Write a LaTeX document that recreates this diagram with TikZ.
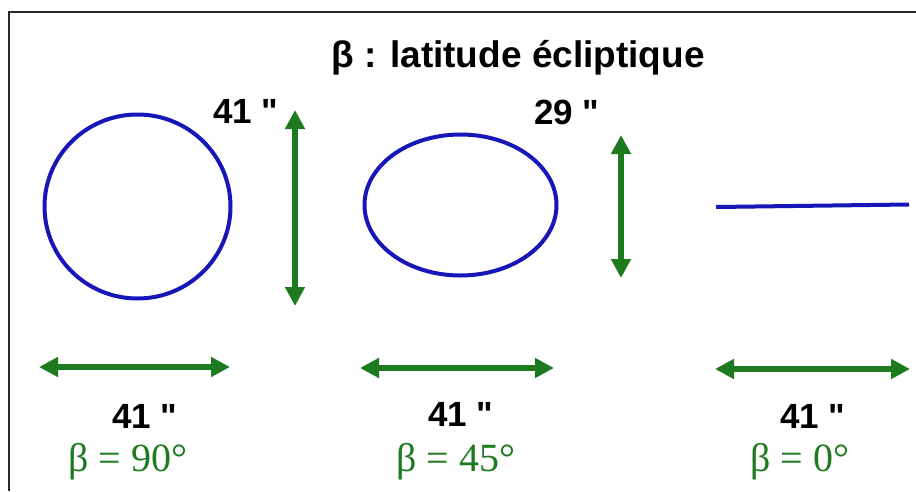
\documentclass[tikz,border=0pt]{standalone}
\usepackage{fontspec}
\usetikzlibrary{arrows.meta}
\newfontfamily\labfont{Liberation Sans}
\newfontfamily\serfont{Liberation Serif}
\definecolor{dgreen}{RGB}{30,122,30}
\definecolor{dblue}{RGB}{22,22,185}
\definecolor{frame}{RGB}{40,40,40}
\begin{document}
\begin{tikzpicture}[x=1pt,y=-1pt,
  dimarrow/.style={draw=dgreen,line width=5.5pt,{Triangle[length=19pt,width=19pt]}-{Triangle[length=19pt,width=19pt]}},
  shapeline/.style={draw=dblue,line width=4pt},
  blacklab/.style={anchor=base,inner sep=0pt,font=\labfont\bfseries\fontsize{35}{40}\selectfont,text=black},
  greenlab/.style={anchor=base,inner sep=0pt,font=\serfont\fontsize{40}{44}\selectfont,text=dgreen}]
\useasboundingbox (0,0) rectangle (916,491);
\fill[white] (0,0) rectangle (916,491);
% frame
\draw[frame,line width=2pt] (9,491) -- (9,12) -- (916,12);
% title
\node[blacklab,font=\labfont\bfseries\fontsize{37}{42}\selectfont] (title) at (518,67) {β : latitude écliptique};
% shapes
\coordinate (c1) at (137.5,206.5);
\draw[shapeline] (c1) ellipse [x radius=93, y radius=92];
\coordinate (c2) at (460.5,205);
\draw[shapeline] (c2) ellipse [x radius=96, y radius=70.5];
\coordinate (l3a) at (716,207);
\coordinate (l3b) at (909,204.5);
\draw[shapeline] (l3a) -- (l3b);
% vertical arrows
\coordinate (v1a) at (295,110);
\coordinate (v1b) at (295,306);
\draw[dimarrow] (v1a) -- (v1b);
\coordinate (v2a) at (621,135);
\coordinate (v2b) at (621,278);
\draw[dimarrow] (v2a) -- (v2b);
% horizontal arrows
\coordinate (h1a) at (39,367);
\coordinate (h1b) at (230,367);
\draw[dimarrow] (h1a) -- (h1b);
\coordinate (h2a) at (360,368);
\coordinate (h2b) at (554,368);
\draw[dimarrow] (h2a) -- (h2b);
\coordinate (h3a) at (715,369);
\coordinate (h3b) at (910,369);
\draw[dimarrow] (h3a) -- (h3b);
% labels
\node[blacklab] (t1) at (246,123) {41 \char34};
\node[blacklab] (t2) at (567,124) {29 \char34};
\node[blacklab] (b1) at (145,428) {41 \char34};
\node[blacklab] (b2) at (461,426) {41 \char34};
\node[blacklab] (b3) at (813,428) {41 \char34};
\node[greenlab] (g1) at (128,471) {β = 90°};
\node[greenlab] (g2) at (456,471) {β = 45°};
\node[greenlab] (g3) at (800,471) {β = 0°};
\end{tikzpicture}
\end{document}
